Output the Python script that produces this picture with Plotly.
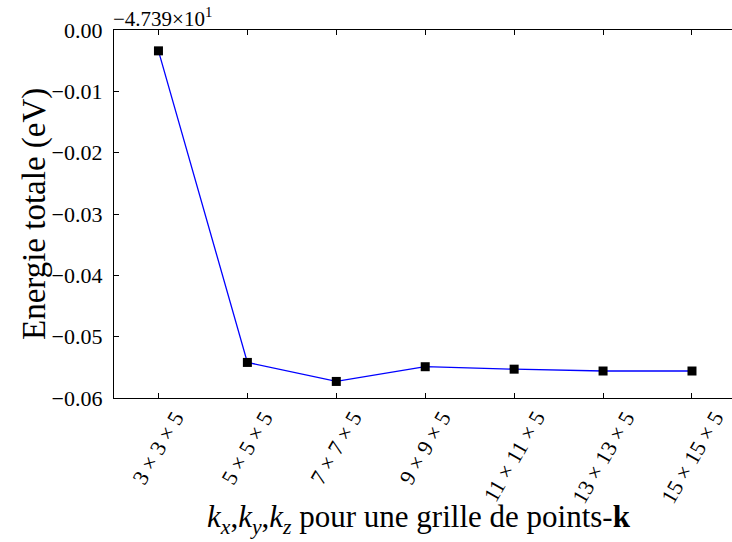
import plotly.graph_objects as go

categories = ["3 × 3 × 5", "5 × 5 × 5", "7 × 7 × 5", "9 × 9 × 5",
              "11 × 11 × 5", "13 × 13 × 5", "15 × 15 × 5"]
energy_offset = [-0.0034, -0.0542, -0.0573, -0.0549, -0.0553, -0.0556, -0.0556]
y_ticks = [0.00, -0.01, -0.02, -0.03, -0.04, -0.05, -0.06]
offset_label = "−4.739×10<sup>1</sup>"

FONT = "'Liberation Serif', 'DejaVu Serif', 'Times New Roman', serif"
W, H = 732, 542
L, R, T, B = 114, 0, 30, 144

x_idx = list(range(len(categories)))

fig = go.Figure()
fig.add_trace(go.Scatter(
    x=x_idx, y=energy_offset, mode="lines+markers",
    line=dict(color="#0000ff", width=1.3),
    marker=dict(symbol="square", size=9, color="black",
                line=dict(color="black", width=0)),
    showlegend=False, cliponaxis=False,
))

fig.update_layout(
    width=W, height=H,
    margin=dict(l=L, r=R, t=T, b=B, pad=0),
    paper_bgcolor="white", plot_bgcolor="white",
    font=dict(family=FONT, color="black", size=20),
)
fig.update_xaxes(
    range=[-0.5, 6.45], tickmode="array", tickvals=x_idx, showticklabels=False,
    showgrid=False, zeroline=False, showline=True, linecolor="black", linewidth=1.2,
    mirror="ticks", ticks="inside", ticklen=5, tickcolor="black", tickwidth=1,
)
fig.update_yaxes(
    range=[-0.06, 0.0], tickmode="array", tickvals=y_ticks,
    ticktext=[("−" if v < 0 else "") + f"{abs(v):.2f}" for v in y_ticks],
    showgrid=False, zeroline=False, showline=True, linecolor="black", linewidth=1.2,
    mirror=False, ticks="inside", ticklen=5, tickcolor="black", tickwidth=1,
    tickfont=dict(size=22, family=FONT), ticklabelstandoff=6,
)

annotations = []
for i, lab in enumerate(categories):
    annotations.append(dict(
        x=i, y=0, xref="x", yref="paper", text=lab, showarrow=False,
        textangle=-60, xanchor="center", yanchor="top", yshift=-6,
        font=dict(size=22, family=FONT),
    ))
annotations.append(dict(
    x=0, y=1, xref="paper", yref="paper", text=offset_label, showarrow=False,
    xanchor="left", yanchor="bottom", xshift=-3, yshift=-3,
    font=dict(size=21, family=FONT),
))
annotations.append(dict(
    x=0, y=0.5, xref="paper", yref="paper", text="Energie totale (eV)", showarrow=False,
    textangle=-90, xanchor="center", yanchor="middle", xshift=-80,
    font=dict(size=33, family=FONT),
))
annotations.append(dict(
    x=0.5, y=0, xref="paper", yref="paper",
    text="<i>k<sub>x</sub></i>,<i>k<sub>y</sub></i>,<i>k<sub>z</sub></i> pour une grille de points-<b>k</b>",
    showarrow=False, xanchor="center", yanchor="middle", yshift=-121, xshift=-4,
    font=dict(size=31, family=FONT),
))
fig.update_layout(annotations=annotations)

fig.write_html("out.html")
